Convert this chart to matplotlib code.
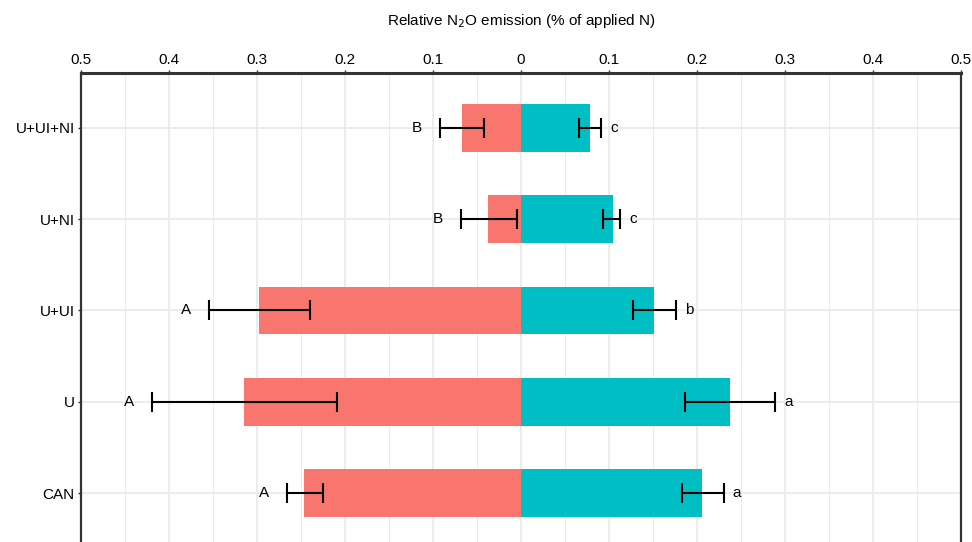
import matplotlib
matplotlib.use("Agg")
import matplotlib.pyplot as plt
import numpy as np

plt.rcParams['font.family'] = ['Liberation Sans', 'DejaVu Sans']

# data (bottom to top)
categories = ["CAN", "U", "U+UI", "U+NI", "U+UI+NI"]
left_mean = [0.247, 0.315, 0.298, 0.0375, 0.0675]
left_lo = [0.225, 0.2095, 0.240, 0.0045, 0.042]
left_hi = [0.266, 0.419, 0.3545, 0.0685, 0.092]
right_mean = [0.206, 0.238, 0.1517, 0.104, 0.078]
right_lo = [0.183, 0.1867, 0.127, 0.093, 0.066]
right_hi = [0.2307, 0.289, 0.176, 0.1127, 0.091]
left_letters = ["A", "A", "A", "B", "B"]
right_letters = ["a", "a", "b", "c", "c"]
ticks = [-0.5, -0.4, -0.3, -0.2, -0.1, 0, 0.1, 0.2, 0.3, 0.4, 0.5]

fig = plt.figure(figsize=(9.72, 5.42), dpi=100)
# axes runs a little past the bottom edge, as in the reference
ax = fig.add_axes([81 / 972, 1 - 548 / 542, 880 / 972, 475 / 542])

y = np.arange(1, len(categories) + 1)
lm = np.array(left_mean)
rm = np.array(right_mean)

ax.barh(y, -lm, height=0.52, color="#F8766D", zorder=2)
ax.barh(y, rm, height=0.52, color="#00BFC4", zorder=2)

ax.errorbar(-lm, y, xerr=[np.array(left_hi) - lm, lm - np.array(left_lo)],
            fmt='none', ecolor='black', elinewidth=1.5, capsize=7, capthick=1.5, zorder=3)
ax.errorbar(rm, y, xerr=[rm - np.array(right_lo), np.array(right_hi) - rm],
            fmt='none', ecolor='black', elinewidth=1.5, capsize=7, capthick=1.5, zorder=3)

for i in range(len(categories)):
    ax.annotate(left_letters[i], (-left_hi[i], y[i]), xytext=(-16.5, 0),
                textcoords='offset points', ha='center', va='center', fontsize=11)
    ax.annotate(right_letters[i], (right_hi[i], y[i]), xytext=(9.4, 0),
                textcoords='offset points', ha='center', va='center', fontsize=11)

ax.set_xlim(-0.5, 0.5)
ax.set_ylim(0.4, 5.6)
ax.set_xticks(ticks)
ax.set_xticklabels([("%g" % abs(t)) for t in ticks], fontsize=11)
ax.set_xticks(np.arange(-0.45, 0.5, 0.1), minor=True)
ax.set_yticks(y)
ax.set_yticklabels(categories, fontsize=11)
ax.xaxis.tick_top()
fig.text(521 / 972, 1 - 21 / 542, "Relative N$_2$O emission (% of applied N)",
         ha='center', va='center', fontsize=11)

ax.grid(True, which='major', color='#EBEBEB', linewidth=1.3, zorder=0)
ax.grid(True, which='minor', axis='x', color='#EBEBEB', linewidth=0.7, zorder=0)
ax.set_axisbelow(True)
ax.tick_params(axis='x', which='major', length=2, width=1, color='#333333', pad=2.5)
ax.tick_params(axis='x', which='minor', length=0)
ax.tick_params(axis='y', length=2, width=1, color='#333333', pad=2.5)

for s in ['top', 'left', 'right', 'bottom']:
    ax.spines[s].set_color('#333333')
    ax.spines[s].set_linewidth(1.6)
ax.spines['top'].set_linewidth(2.2)

fig.savefig("out.png", dpi=100)
